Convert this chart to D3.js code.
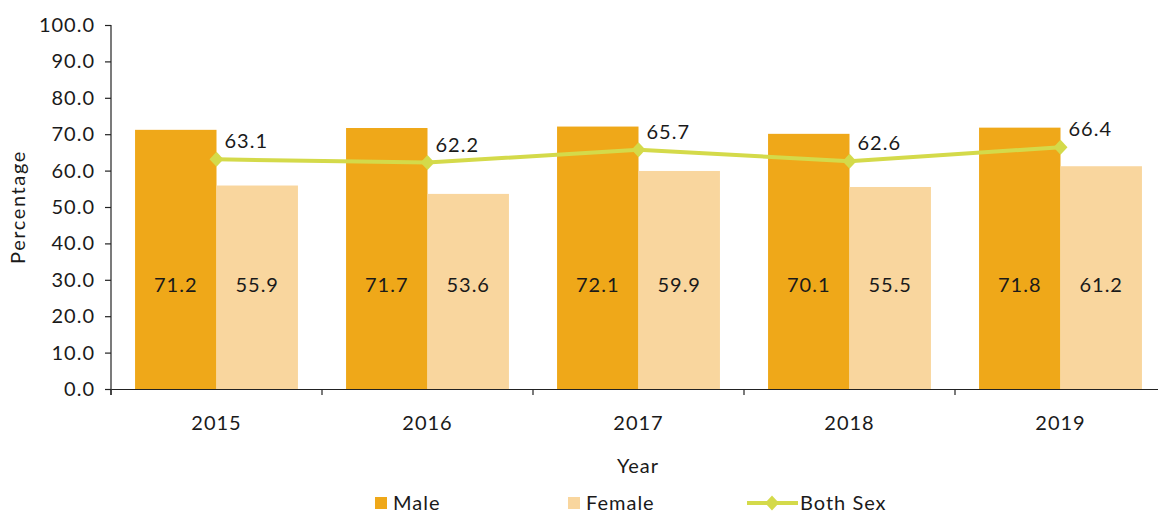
<!DOCTYPE html>
<html><head><meta charset="utf-8">
<script src="https://cdn.jsdelivr.net/npm/d3@7"></script>
<style>body{margin:0;background:#fff}svg{display:block;font-family:Lato,"Open Sans",sans-serif;letter-spacing:1px}</style>
</head><body><svg id="c" width="1158" height="513"></svg>
<script>
const years = ["2015","2016","2017","2018","2019"];
const male = [71.2,71.7,72.1,70.1,71.8];
const female = [55.9,53.6,59.9,55.5,61.2];
const both = [63.1,62.2,65.7,62.6,66.4];
const yTicks = [0,10,20,30,40,50,60,70,80,90,100];
const seriesNames = ["Male","Female","Both Sex"];

const C = {male:"#EFA819", female:"#F9D69E", line:"#D4DA4A", text:"#1a1a1a"};
const FS = 20;
const svg = d3.select("#c");
const x = d3.scaleBand().domain(years).range([111,1166]).padding(0);
const y = d3.scaleLinear().domain([0,100]).range([389,25]);
const bw = x.bandwidth()*0.386;

// axes
const ya = svg.append("g").attr("transform","translate(111,0)")
  .call(d3.axisLeft(y).tickValues(yTicks).tickFormat(d3.format(".1f")).tickSizeOuter(0).tickSize(6));
ya.selectAll("text").attr("font-size",FS).attr("fill",C.text).attr("dx",-7).attr("font-family","Lato");
ya.selectAll("line,path").attr("stroke","#222").attr("stroke-width",1.2);
ya.select(".domain").attr("d","M0,25V395");

// bars
const g = svg.append("g");
g.selectAll(".m").data(years).join("rect")
  .attr("x",d=>x(d)+x.bandwidth()/2-bw).attr("width",bw)
  .attr("y",(d,i)=>y(male[i])).attr("height",(d,i)=>y(0)-y(male[i])).attr("fill",C.male);
g.selectAll(".f").data(years).join("rect")
  .attr("x",d=>x(d)+x.bandwidth()/2).attr("width",bw)
  .attr("y",(d,i)=>y(female[i])).attr("height",(d,i)=>y(0)-y(female[i])).attr("fill",C.female);

// bar labels
const lblY = y(28.6);
g.selectAll(".ml").data(years).join("text")
  .attr("x",d=>x(d)+x.bandwidth()/2-bw/2).attr("y",lblY).attr("dy","0.35em")
  .attr("text-anchor","middle").attr("font-size",FS).attr("fill",C.text).text((d,i)=>male[i].toFixed(1));
g.selectAll(".fl").data(years).join("text")
  .attr("x",d=>x(d)+x.bandwidth()/2+bw/2).attr("y",lblY).attr("dy","0.35em")
  .attr("text-anchor","middle").attr("font-size",FS).attr("fill",C.text).text((d,i)=>female[i].toFixed(1));

// x axis
const xa = svg.append("g").attr("transform","translate(0,389)")
  .call(d3.axisBottom(x).tickSize(0).tickSizeOuter(0));
xa.select(".domain").attr("stroke","#222").attr("stroke-width",1.2);
xa.selectAll(".tick text").attr("font-size",FS).attr("fill",C.text).attr("y",34).attr("dy","0.35em").attr("font-family","Lato");
xa.selectAll(".bt").data(years).join("line")
  .attr("x1",d=>x(d)).attr("x2",d=>x(d)).attr("y1",0).attr("y2",6)
  .attr("stroke","#222").attr("stroke-width",1.2);

// line
const pts = years.map((d,i)=>[x(d)+x.bandwidth()/2, y(both[i])]);
svg.append("path").attr("d",d3.line()(pts)).attr("fill","none")
  .attr("stroke",C.line).attr("stroke-width",4);
const diamond = {draw(ctx){ctx.moveTo(0,-7.5);ctx.lineTo(7,0);ctx.lineTo(0,7.5);ctx.lineTo(-7,0);ctx.closePath();}};
const dia = d3.symbol().type(diamond);
svg.selectAll(".dm").data(pts).join("path").attr("d",dia())
  .attr("transform",p=>`translate(${p[0]},${p[1]})`).attr("fill",C.line);
svg.selectAll(".bl").data(years).join("text")
  .attr("x",d=>x(d)+x.bandwidth()/2+8).attr("y",(d,i)=>y(both[i])-18).attr("dy","0.35em")
  .attr("font-size",FS).attr("fill",C.text).text((d,i)=>both[i].toFixed(1));

// axis titles
svg.append("text").attr("x",638).attr("y",466).attr("dy","0.35em").attr("text-anchor","middle")
  .attr("font-size",FS).attr("fill",C.text).text("Year");
svg.append("text").attr("transform","translate(18,207) rotate(-90)").attr("dy","0.35em").attr("text-anchor","middle")
  .attr("font-size",FS).attr("letter-spacing","1.6px").attr("fill",C.text).text("Percentage");

// legend
const ly = 503;
const lg = svg.append("g").attr("font-size",FS).attr("fill",C.text);
lg.append("rect").attr("x",375).attr("y",ly-6).attr("width",12).attr("height",12).attr("fill",C.male);
lg.append("text").attr("x",393).attr("y",ly).attr("dy","0.35em").text(seriesNames[0]);
lg.append("rect").attr("x",568).attr("y",ly-6).attr("width",12).attr("height",12).attr("fill",C.female);
lg.append("text").attr("x",586).attr("y",ly).attr("dy","0.35em").text(seriesNames[1]);
lg.append("line").attr("x1",747).attr("x2",798).attr("y1",ly).attr("y2",ly).attr("stroke",C.line).attr("stroke-width",4);
lg.append("path").attr("d",dia()).attr("transform",`translate(772,${ly})`).attr("fill",C.line);
lg.append("text").attr("x",800).attr("y",ly).attr("dy","0.35em").text(seriesNames[2]);
</script></body></html>
